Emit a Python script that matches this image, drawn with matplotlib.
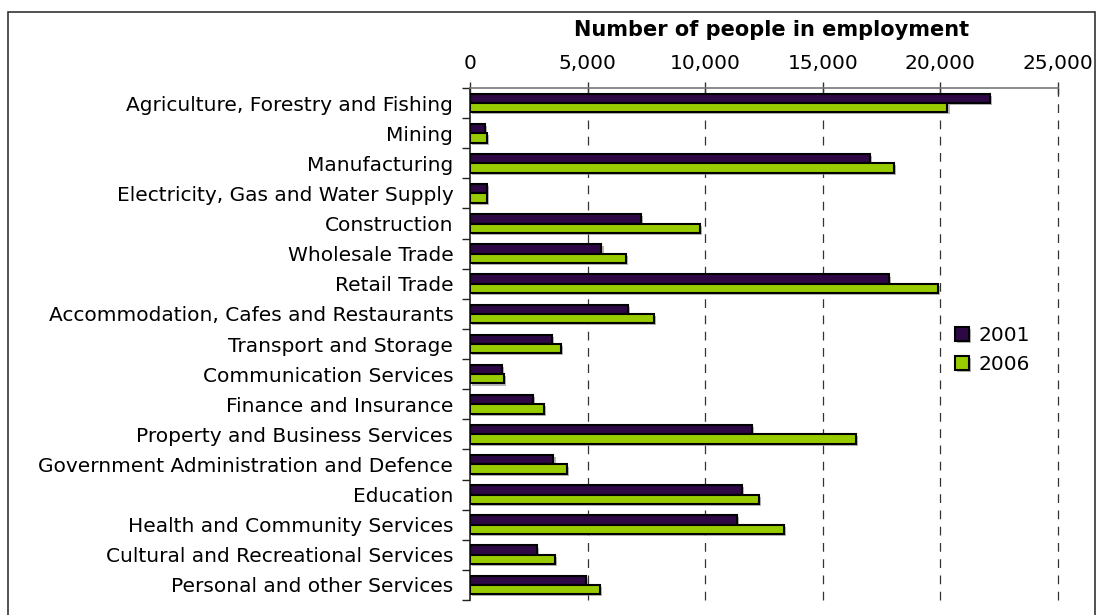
import matplotlib
matplotlib.use("Agg")
import matplotlib.pyplot as plt
import matplotlib.patheffects as pe
from matplotlib.patches import Rectangle
from matplotlib.ticker import FuncFormatter, FixedLocator
import numpy as np

categories = [
    "Agriculture, Forestry and Fishing",
    "Mining",
    "Manufacturing",
    "Electricity, Gas and Water Supply",
    "Construction",
    "Wholesale Trade",
    "Retail Trade",
    "Accommodation, Cafes and Restaurants",
    "Transport and Storage",
    "Communication Services",
    "Finance and Insurance",
    "Property and Business Services",
    "Government Administration and Defence",
    "Education",
    "Health and Community Services",
    "Cultural and Recreational Services",
    "Personal and other Services",
]
values_2001 = [22100, 650, 17000, 720, 7270, 5590, 17800, 6730, 3490, 1370, 2660,
               11990, 3550, 11560, 11340, 2840, 4920]
values_2006 = [20300, 720, 18040, 720, 9770, 6630, 19910, 7830, 3860, 1450, 3140,
               16420, 4140, 12300, 13340, 3630, 5510]
series_labels = ["2001", "2006"]
x_ticks = [0, 5000, 10000, 15000, 20000, 25000]
title = "Number of people in employment"

c2001 = "#2D0845"
c2006 = "#99CC00"

W, H = 1097, 615
fig = plt.figure(figsize=(W / 100, H / 100), dpi=100)
fig.patch.set_facecolor("white")

ax = fig.add_axes([470 / W, 1 - 600 / H, (1058 - 470) / W, (600 - 88) / H])

shadow = [pe.SimplePatchShadow(offset=(1.5, -1.5), shadow_rgbFace="#888888", alpha=0.6),
          pe.Normal()]

y = np.arange(len(categories))
bh = 0.31
b1 = ax.barh(y - bh / 2, values_2001, height=bh, color=c2001, edgecolor="black",
             linewidth=1.5, label=series_labels[0], zorder=3)
b2 = ax.barh(y + bh / 2, values_2006, height=bh, color=c2006, edgecolor="black",
             linewidth=1.5, label=series_labels[1], zorder=3)
for bars in (b1, b2):
    for p in bars:
        p.set_path_effects(shadow)

ax.set_ylim(len(categories) - 0.5, -0.5)
ax.set_xlim(0, 25000)

# x axis on top
ax.xaxis.tick_top()
ax.xaxis.set_major_locator(FixedLocator(x_ticks))
ax.xaxis.set_major_formatter(FuncFormatter(lambda v, p: f"{int(v):,}"))
ax.tick_params(axis="x", which="major", direction="inout", length=8, width=1,
               color="#333333", labelsize=14.5, pad=7)

fig.text(772 / W, 1 - 30 / H, title, fontsize=15, fontweight="bold",
         ha="center", va="center")

# y axis
ax.set_yticks(y)
ax.set_yticklabels(categories, fontsize=14.5)
ax.yaxis.set_minor_locator(FixedLocator(np.arange(-0.5, len(categories), 1.0)))
ax.tick_params(axis="y", which="major", length=0, pad=12)
ax.tick_params(axis="y", which="minor", length=6, width=1, direction="out",
               color="#222222")

# grid lines
for v in x_ticks[1:]:
    ax.axvline(v, color="#333333", linewidth=0.9, linestyle=(0, (7, 6)), zorder=1,
               clip_on=False)

for side in ["right", "bottom"]:
    ax.spines[side].set_visible(False)
ax.spines["top"].set_color("#777777")
ax.spines["top"].set_linewidth(1.2)
ax.spines["left"].set_color("#222222")
ax.spines["left"].set_linewidth(1.2)

leg = ax.legend(loc="upper left", bbox_to_anchor=(945 / W, 1 - 316 / H),
                bbox_transform=fig.transFigure, frameon=False, fontsize=14.5,
                handlelength=0.7, handleheight=0.7, handletextpad=0.45,
                labelspacing=0.5, borderpad=0)

# outer frame
fig.patches.append(Rectangle((8 / W, -0.05), (1095 - 8) / W, 1.05 - 12 / H,
                             transform=fig.transFigure, fill=False,
                             edgecolor="#333333", linewidth=1.2))

fig.savefig("out.png", dpi=100)
